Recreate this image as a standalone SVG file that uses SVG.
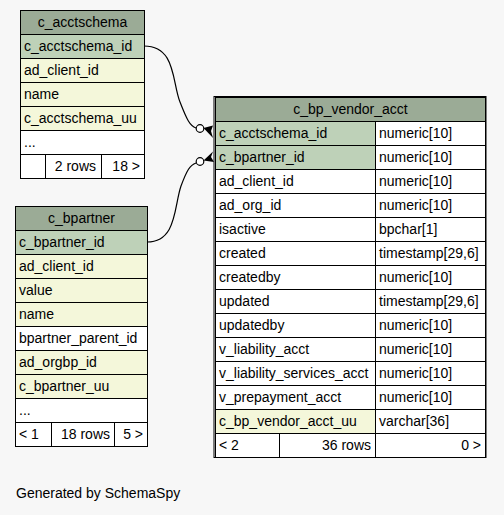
<svg xmlns="http://www.w3.org/2000/svg" width="504" height="515" viewBox="0 0 504 515">
<style>
text{font-family:"Liberation Sans",Arial,sans-serif;font-size:14px;fill:#000}
.c{text-anchor:middle}
.r{text-anchor:end}
rect{stroke:#000;stroke-width:1}
rect.bg{stroke:none;fill:#f7f7f7}
.h{fill:#9bab96}
.p{fill:#bed1b8}
.y{fill:#f4f7da}
.w{fill:#ffffff}
.edge{fill:none;stroke:#000;stroke-width:1.2}
.dot{fill:#ffffff;stroke:#000;stroke-width:1.2}
</style>
<rect class="bg" x="0" y="0" width="504" height="515"/>

<g id="c_acctschema">
<rect class="h" x="20.5" y="10.5" width="124" height="24"/>
<text class="c" x="82.5" y="27">c_acctschema</text>
<rect class="p" x="20.5" y="34.5" width="124" height="24"/>
<text x="24" y="51">c_acctschema_id</text>
<rect class="y" x="20.5" y="58.5" width="124" height="24"/>
<text x="24" y="75">ad_client_id</text>
<rect class="y" x="20.5" y="82.5" width="124" height="24"/>
<text x="24" y="99">name</text>
<rect class="y" x="20.5" y="106.5" width="124" height="24"/>
<text x="24" y="123">c_acctschema_uu</text>
<rect class="w" x="20.5" y="130.5" width="124" height="24"/>
<text x="24" y="147">...</text>
<rect class="w" x="20.5" y="154.5" width="25" height="24"/>
<rect class="w" x="45.5" y="154.5" width="56" height="24"/>
<rect class="w" x="101.5" y="154.5" width="43" height="24"/>
<text class="r" x="96" y="171">2 rows</text>
<text class="r" x="140" y="171">18 &gt;</text>
</g>

<g id="c_bpartner">
<rect class="h" x="15.5" y="206.5" width="132" height="24"/>
<text class="c" x="81.5" y="223">c_bpartner</text>
<rect class="p" x="15.5" y="230.5" width="132" height="24"/>
<text x="19" y="247">c_bpartner_id</text>
<rect class="y" x="15.5" y="254.5" width="132" height="24"/>
<text x="19" y="271">ad_client_id</text>
<rect class="y" x="15.5" y="278.5" width="132" height="24"/>
<text x="19" y="295">value</text>
<rect class="y" x="15.5" y="302.5" width="132" height="24"/>
<text x="19" y="319">name</text>
<rect class="w" x="15.5" y="326.5" width="132" height="24"/>
<text x="19" y="343">bpartner_parent_id</text>
<rect class="y" x="15.5" y="350.5" width="132" height="24"/>
<text x="19" y="367">ad_orgbp_id</text>
<rect class="y" x="15.5" y="374.5" width="132" height="24"/>
<text x="19" y="391">c_bpartner_uu</text>
<rect class="w" x="15.5" y="398.5" width="132" height="24"/>
<text x="19" y="415">...</text>
<rect class="w" x="15.5" y="422.5" width="36" height="24"/>
<rect class="w" x="51.5" y="422.5" width="63" height="24"/>
<rect class="w" x="114.5" y="422.5" width="33" height="24"/>
<text x="19" y="439">&lt; 1</text>
<text class="r" x="110" y="439">18 rows</text>
<text class="r" x="143" y="439">5 &gt;</text>
</g>

<g id="c_bp_vendor_acct">
<rect class="h" x="215.5" y="97.5" width="270" height="24"/>
<text class="c" x="350.5" y="114">c_bp_vendor_acct</text>
<rect class="p" x="215.5" y="121.5" width="160" height="24"/><rect class="w" x="375.5" y="121.5" width="110" height="24"/>
<text x="219" y="138">c_acctschema_id</text><text x="379" y="138">numeric[10]</text>
<rect class="p" x="215.5" y="145.5" width="160" height="24"/><rect class="w" x="375.5" y="145.5" width="110" height="24"/>
<text x="219" y="162">c_bpartner_id</text><text x="379" y="162">numeric[10]</text>
<rect class="w" x="215.5" y="169.5" width="160" height="24"/><rect class="w" x="375.5" y="169.5" width="110" height="24"/>
<text x="219" y="186">ad_client_id</text><text x="379" y="186">numeric[10]</text>
<rect class="w" x="215.5" y="193.5" width="160" height="24"/><rect class="w" x="375.5" y="193.5" width="110" height="24"/>
<text x="219" y="210">ad_org_id</text><text x="379" y="210">numeric[10]</text>
<rect class="w" x="215.5" y="217.5" width="160" height="24"/><rect class="w" x="375.5" y="217.5" width="110" height="24"/>
<text x="219" y="234">isactive</text><text x="379" y="234">bpchar[1]</text>
<rect class="w" x="215.5" y="241.5" width="160" height="24"/><rect class="w" x="375.5" y="241.5" width="110" height="24"/>
<text x="219" y="258">created</text><text x="379" y="258">timestamp[29,6]</text>
<rect class="w" x="215.5" y="265.5" width="160" height="24"/><rect class="w" x="375.5" y="265.5" width="110" height="24"/>
<text x="219" y="282">createdby</text><text x="379" y="282">numeric[10]</text>
<rect class="w" x="215.5" y="289.5" width="160" height="24"/><rect class="w" x="375.5" y="289.5" width="110" height="24"/>
<text x="219" y="306">updated</text><text x="379" y="306">timestamp[29,6]</text>
<rect class="w" x="215.5" y="313.5" width="160" height="24"/><rect class="w" x="375.5" y="313.5" width="110" height="24"/>
<text x="219" y="330">updatedby</text><text x="379" y="330">numeric[10]</text>
<rect class="w" x="215.5" y="337.5" width="160" height="24"/><rect class="w" x="375.5" y="337.5" width="110" height="24"/>
<text x="219" y="354">v_liability_acct</text><text x="379" y="354">numeric[10]</text>
<rect class="w" x="215.5" y="361.5" width="160" height="24"/><rect class="w" x="375.5" y="361.5" width="110" height="24"/>
<text x="219" y="378">v_liability_services_acct</text><text x="379" y="378">numeric[10]</text>
<rect class="w" x="215.5" y="385.5" width="160" height="24"/><rect class="w" x="375.5" y="385.5" width="110" height="24"/>
<text x="219" y="402">v_prepayment_acct</text><text x="379" y="402">numeric[10]</text>
<rect class="y" x="215.5" y="409.5" width="160" height="24"/><rect class="w" x="375.5" y="409.5" width="110" height="24"/>
<text x="219" y="426">c_bp_vendor_acct_uu</text><text x="379" y="426">varchar[36]</text>
<rect class="w" x="215.5" y="433.5" width="64" height="24"/>
<rect class="w" x="279.5" y="433.5" width="96" height="24"/>
<rect class="w" x="375.5" y="433.5" width="110" height="24"/>
<text x="219" y="450">&lt; 2</text>
<text class="r" x="371" y="450">36 rows</text>
<text class="r" x="481" y="450">0 &gt;</text>
<rect x="214" y="96.5" width="272" height="361" fill="none" stroke-width="3.5"/>
</g>

<g id="connectors">
<path class="edge" d="M144,46 C176,46 172,82 180,102 C187,120 190,126 196,128"/>
<polygon points="203.5,128 213,125.5 211,131 213,138" fill="#000"/>
<circle class="dot" cx="200" cy="128.5" r="3.8"/>
<path class="edge" d="M147,242 C177,242 174,206 181,186 C187,170 190,165 196,163"/>
<polygon points="203.5,160.5 213,151.5 211,157 214,162" fill="#000"/>
<circle class="dot" cx="200" cy="161.5" r="3.8"/>
</g>

<text x="16" y="498">Generated by SchemaSpy</text>
</svg>
